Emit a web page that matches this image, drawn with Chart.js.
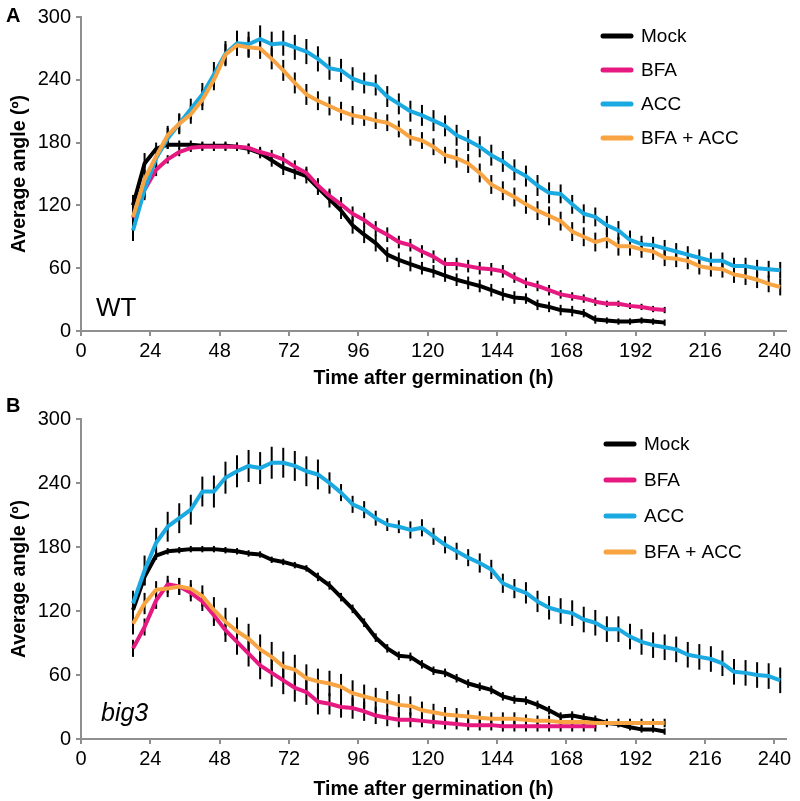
<!DOCTYPE html>
<html>
<head>
<meta charset="utf-8">
<script src="https://cdn.jsdelivr.net/npm/chart.js@4.4.0/dist/chart.umd.min.js"></script>
<style>
  body { margin: 0; background: #fff; }
  #wrap { position: relative; width: 800px; height: 801px; }
  canvas { position: absolute; left: 0; }
</style>
</head>
<body>
<div id="wrap">
  <canvas id="chartA" width="800" height="395" style="top:0"></canvas>
  <canvas id="chartB" width="800" height="406" style="top:395px"></canvas>
</div>
<script>
// time points (h after germination)
const hours = [18, 22, 26, 30, 34, 38, 42, 46, 50, 54, 58, 62, 66, 70, 74, 78, 82, 86, 90, 94,
  98, 102, 106, 110, 114, 118, 122, 126, 130, 134, 138, 142, 146, 150, 154, 158, 162,
  166, 170, 174, 178, 182, 186, 190, 194, 198, 202, 206, 210, 214, 218, 222, 226, 230, 234, 238, 242]

const seriesNames = ['Mock', 'BFA', 'ACC', 'BFA + ACC']
const seriesColors = ['#000000', '#e5197f', '#1aa9e1', '#f8a443']
const xTicks = [0, 24, 48, 72, 96, 120, 144, 168, 192, 216, 240]
const yTicks = [0, 60, 120, 180, 240, 300]

// panel A - WT
const mockA = [120, 160, 174, 178, 178, 178, 177, 177, 177, 176, 174, 170, 163, 156, 152, 148, 137, 126, 115, 101,
  92, 84, 73, 68, 64, 60, 57, 53, 49, 46, 43, 39, 35, 32, 31, 25, 23,
  20, 19, 17, 11, 10, 9, 9, 10, 9, 8]
const bfaA = [108, 135, 154, 164, 171, 175, 176, 176, 176, 176, 175, 171, 168, 164, 157, 151, 139, 129, 121, 112,
  106, 98, 92, 85, 82, 76, 71, 64, 64, 62, 60, 59, 57, 51, 46, 43, 39,
  35, 33, 31, 28, 26, 26, 24, 23, 21, 20]
const accA = [96, 135, 165, 184, 198, 212, 226, 245, 265, 275, 274, 279, 274, 275, 271, 267, 260, 251, 249, 241,
  237, 235, 224, 217, 210, 206, 201, 196, 187, 182, 176, 168, 162, 154, 148, 139, 132,
  131, 121, 112, 109, 101, 96, 87, 83, 82, 79, 76, 73, 70, 67, 67, 62, 62, 60, 59, 58]
const bfaAccA = [109, 145, 167, 187, 198, 207, 221, 240, 264, 273, 271, 270, 260, 249, 237, 226, 220, 215, 210, 206,
  204, 201, 199, 193, 185, 182, 176, 168, 165, 160, 151, 140, 134, 128, 121, 115, 110,
  105, 95, 90, 85, 88, 81, 81, 78, 76, 70, 69, 67, 62, 60, 59, 54, 52, 49, 45, 42]

const mockErrA = [10, 10, 6, 4, 4, 4, 4, 4, 4, 4, 5, 5, 6, 7, 7, 7, 7, 8, 8, 8,
  8, 8, 7, 7, 7, 6, 6, 6, 6, 6, 6, 6, 6, 6, 5, 5, 5,
  5, 5, 4, 4, 3, 3, 3, 3, 3, 3]
const bfaErrA = [8, 8, 6, 4, 4, 4, 4, 4, 4, 4, 4, 5, 5, 6, 6, 6, 7, 7, 7, 7,
  7, 7, 7, 6, 6, 6, 6, 6, 6, 6, 6, 6, 6, 5, 5, 5, 5,
  4, 4, 4, 4, 3, 3, 3, 3, 3, 3]
const accErrA = [10, 10, 10, 10, 10, 10, 11, 12, 12, 12, 12, 13, 12, 12, 12, 12, 12, 11, 11, 11,
  10, 10, 10, 10, 10, 10, 10, 10, 10, 10, 10, 10, 10, 10, 10, 10, 10,
  9, 9, 9, 9, 9, 9, 9, 8, 8, 8, 8, 8, 8, 8, 8, 8, 8, 8, 8, 8]
const bfaAccErrA = [10, 10, 9, 9, 9, 9, 10, 10, 10, 10, 10, 10, 10, 10, 10, 10, 9, 9, 9, 9,
  8, 8, 8, 8, 8, 8, 8, 8, 9, 9, 9, 9, 9, 9, 9, 9, 9,
  9, 9, 9, 9, 9, 9, 9, 8, 8, 8, 8, 8, 8, 8, 8, 8, 8, 8, 8, 8]

// panel B - big3
const mockB = [121, 152, 172, 176, 177, 178, 178, 178, 177, 176, 174, 173, 168, 166, 163, 160, 152, 144, 133, 122,
  109, 95, 85, 78, 77, 70, 64, 62, 57, 52, 49, 46, 40, 37, 36, 32, 27,
  21, 22, 20, 18, 15, 14, 11, 9, 9, 7]
const bfaB = [85, 105, 130, 145, 143, 137, 129, 116, 102, 91, 80, 69, 62, 55, 48, 44, 35, 33, 30, 29,
  26, 22, 20, 18, 18, 17, 16, 15, 14, 13, 13, 13, 12, 12, 12, 12, 12,
  12, 12, 12, 12]
const accB = [127, 158, 184, 199, 207, 215, 232, 232, 245, 251, 256, 254, 259, 259, 256, 251, 248, 240, 231, 220,
  215, 207, 201, 199, 196, 198, 190, 182, 176, 170, 165, 159, 146, 141, 137, 129, 123,
  120, 118, 112, 109, 103, 103, 96, 91, 88, 86, 84, 79, 77, 75, 71, 63, 62, 60, 59, 55]
const bfaAccB = [108, 127, 140, 141, 143, 141, 134, 121, 110, 101, 94, 84, 77, 68, 65, 57, 54, 52, 49, 43,
  40, 37, 35, 32, 31, 27, 25, 23, 22, 21, 20, 19, 19, 19, 18, 17, 17,
  16, 16, 16, 15, 15, 15, 15, 15, 15, 15]

const mockErrB = [10, 8, 4, 3, 3, 3, 3, 3, 3, 3, 3, 3, 3, 3, 3, 3, 4, 4, 4, 4,
  4, 4, 4, 4, 4, 4, 4, 4, 4, 4, 4, 4, 4, 4, 4, 4, 4,
  4, 4, 4, 4, 3, 3, 3, 3, 3, 3]
const bfaErrB = [8, 8, 8, 8, 8, 8, 9, 10, 11, 12, 12, 13, 13, 13, 13, 12, 12, 10, 10, 10,
  9, 8, 8, 7, 7, 6, 6, 6, 5, 5, 5, 5, 5, 5, 5, 5, 5,
  5, 5, 5, 5]
const accErrB = [12, 14, 14, 14, 14, 14, 14, 15, 15, 15, 15, 15, 15, 14, 14, 14, 14, 10, 8, 8,
  8, 7, 6, 6, 8, 8, 8, 8, 8, 8, 9, 9, 9, 9, 10, 10, 11,
  12, 12, 12, 12, 12, 12, 12, 12, 12, 12, 12, 12, 12, 12, 12, 12, 12, 12, 12, 12]
const bfaAccErrB = [10, 10, 8, 8, 8, 8, 10, 12, 13, 13, 14, 14, 14, 14, 14, 13, 12, 12, 12, 12,
  11, 11, 10, 10, 9, 8, 8, 7, 7, 6, 6, 6, 6, 6, 5, 5, 5,
  5, 5, 5, 5, 4, 4, 4, 4, 4, 4]

Chart.defaults.font.family = "'Liberation Sans', Arial, sans-serif"
Chart.defaults.color = '#000'

// vertical black error bars under the lines
const errorBars = {
  id: 'errorBars',
  beforeDatasetsDraw(chart) {
    const ctx = chart.ctx
    const yScale = chart.scales.y
    ctx.save()
    ctx.strokeStyle = '#000'
    ctx.lineWidth = 2
    chart.data.datasets.forEach((ds, di) => {
      const meta = chart.getDatasetMeta(di)
      meta.data.forEach((pt, i) => {
        const v = ds.data[i].y
        const e = ds.errors[i]
        ctx.beginPath()
        ctx.moveTo(pt.x, yScale.getPixelForValue(v - e))
        ctx.lineTo(pt.x, yScale.getPixelForValue(v + e))
        ctx.stroke()
      })
    })
    ctx.restore()
  }
}

// legend inside the plot + panel letter + genotype text
const panelDecor = {
  id: 'panelDecor',
  afterDraw(chart, args, o) {
    const ctx = chart.ctx
    ctx.save()
    ctx.textBaseline = 'middle'
    chart.data.datasets.forEach((ds, i) => {
      const y = o.legendY + i * o.legendGap
      ctx.strokeStyle = ds.borderColor
      ctx.lineWidth = 5
      ctx.lineCap = 'round'
      ctx.beginPath()
      ctx.moveTo(o.legendX, y)
      ctx.lineTo(o.legendX + 28, y)
      ctx.stroke()
      ctx.fillStyle = '#000'
      ctx.font = "19px 'Liberation Sans', Arial, sans-serif"
      ctx.textAlign = 'left'
      ctx.fillText(ds.label, o.legendX + 38, y + 1)
    })
    ctx.font = "bold 20px 'Liberation Sans', Arial, sans-serif"
    ctx.fillText(o.letter, 6, o.letterY)
    ctx.textBaseline = 'alphabetic'
    ctx.font = o.noteFont
    ctx.fillText(o.note, o.noteX, o.noteY)
    ctx.restore()
  }
}

function makePanel(id, values, errors, decor, layout) {
  const datasets = values.map((vals, i) => ({
    label: seriesNames[i],
    data: vals.map((v, j) => ({ x: hours[j], y: v })),
    errors: errors[i],
    borderColor: seriesColors[i],
    backgroundColor: seriesColors[i],
    borderWidth: 4,
    pointRadius: 0,
    tension: 0,
    borderJoinStyle: 'round',
    order: 4 - i
  }))
  const axisColor = '#8f8f8f'
  return new Chart(document.getElementById(id), {
    type: 'line',
    data: { datasets },
    options: {
      responsive: false,
      animation: false,
      layout: { padding: { top: layout.top, right: 14, left: 0, bottom: 0 } },
      plugins: { legend: { display: false }, tooltip: { enabled: false }, panelDecor: decor },
      scales: {
        x: {
          type: 'linear', min: 0, max: 244,
          afterFit: s => { s.height = layout.xHeight },
          afterBuildTicks: s => { s.ticks = xTicks.map(v => ({ value: v })) },
          ticks: { font: { size: 20 }, padding: 3, maxRotation: 0 },
          grid: { drawOnChartArea: false, drawTicks: true, tickLength: 5, color: axisColor, lineWidth: 2 },
          border: { display: true, color: axisColor, width: 2 },
          title: {
            display: true, text: 'Time after germination (h)',
            font: { size: 19.5, weight: 'bold' },
            padding: { top: 0, bottom: layout.titleBottom }
          }
        },
        y: {
          min: 0, max: 300,
          afterFit: s => { s.width = 81 },
          afterBuildTicks: s => { s.ticks = yTicks.map(v => ({ value: v })) },
          ticks: { font: { size: 20 }, padding: 5 },
          grid: { drawOnChartArea: false, drawTicks: true, tickLength: 5, color: axisColor, lineWidth: 2 },
          border: { display: true, color: axisColor, width: 2 },
          title: {
            display: true, text: 'Average angle (º)',
            font: { size: 19.5, weight: 'bold' },
            padding: { top: 8, bottom: 0 }
          }
        }
      }
    },
    plugins: [errorBars, panelDecor]
  })
}

makePanel('chartA',
  [mockA, bfaA, accA, bfaAccA],
  [mockErrA, bfaErrA, accErrA, bfaAccErrA],
  { legendX: 603, legendY: 36, legendGap: 34, letter: 'A', letterY: 16,
    note: 'WT', noteX: 96, noteY: 316, noteFont: "26px 'Liberation Sans', Arial, sans-serif" },
  { top: 11, xHeight: 64, titleBottom: 5 })

makePanel('chartB',
  [mockB, bfaB, accB, bfaAccB],
  [mockErrB, bfaErrB, accErrB, bfaAccErrB],
  { legendX: 606, legendY: 49, legendGap: 36, letter: 'B', letterY: 11,
    note: 'big3', noteX: 101, noteY: 326, noteFont: "italic 25px 'Liberation Sans', Arial, sans-serif" },
  { top: 24, xHeight: 62, titleBottom: 0 })
</script>
</body>
</html>
